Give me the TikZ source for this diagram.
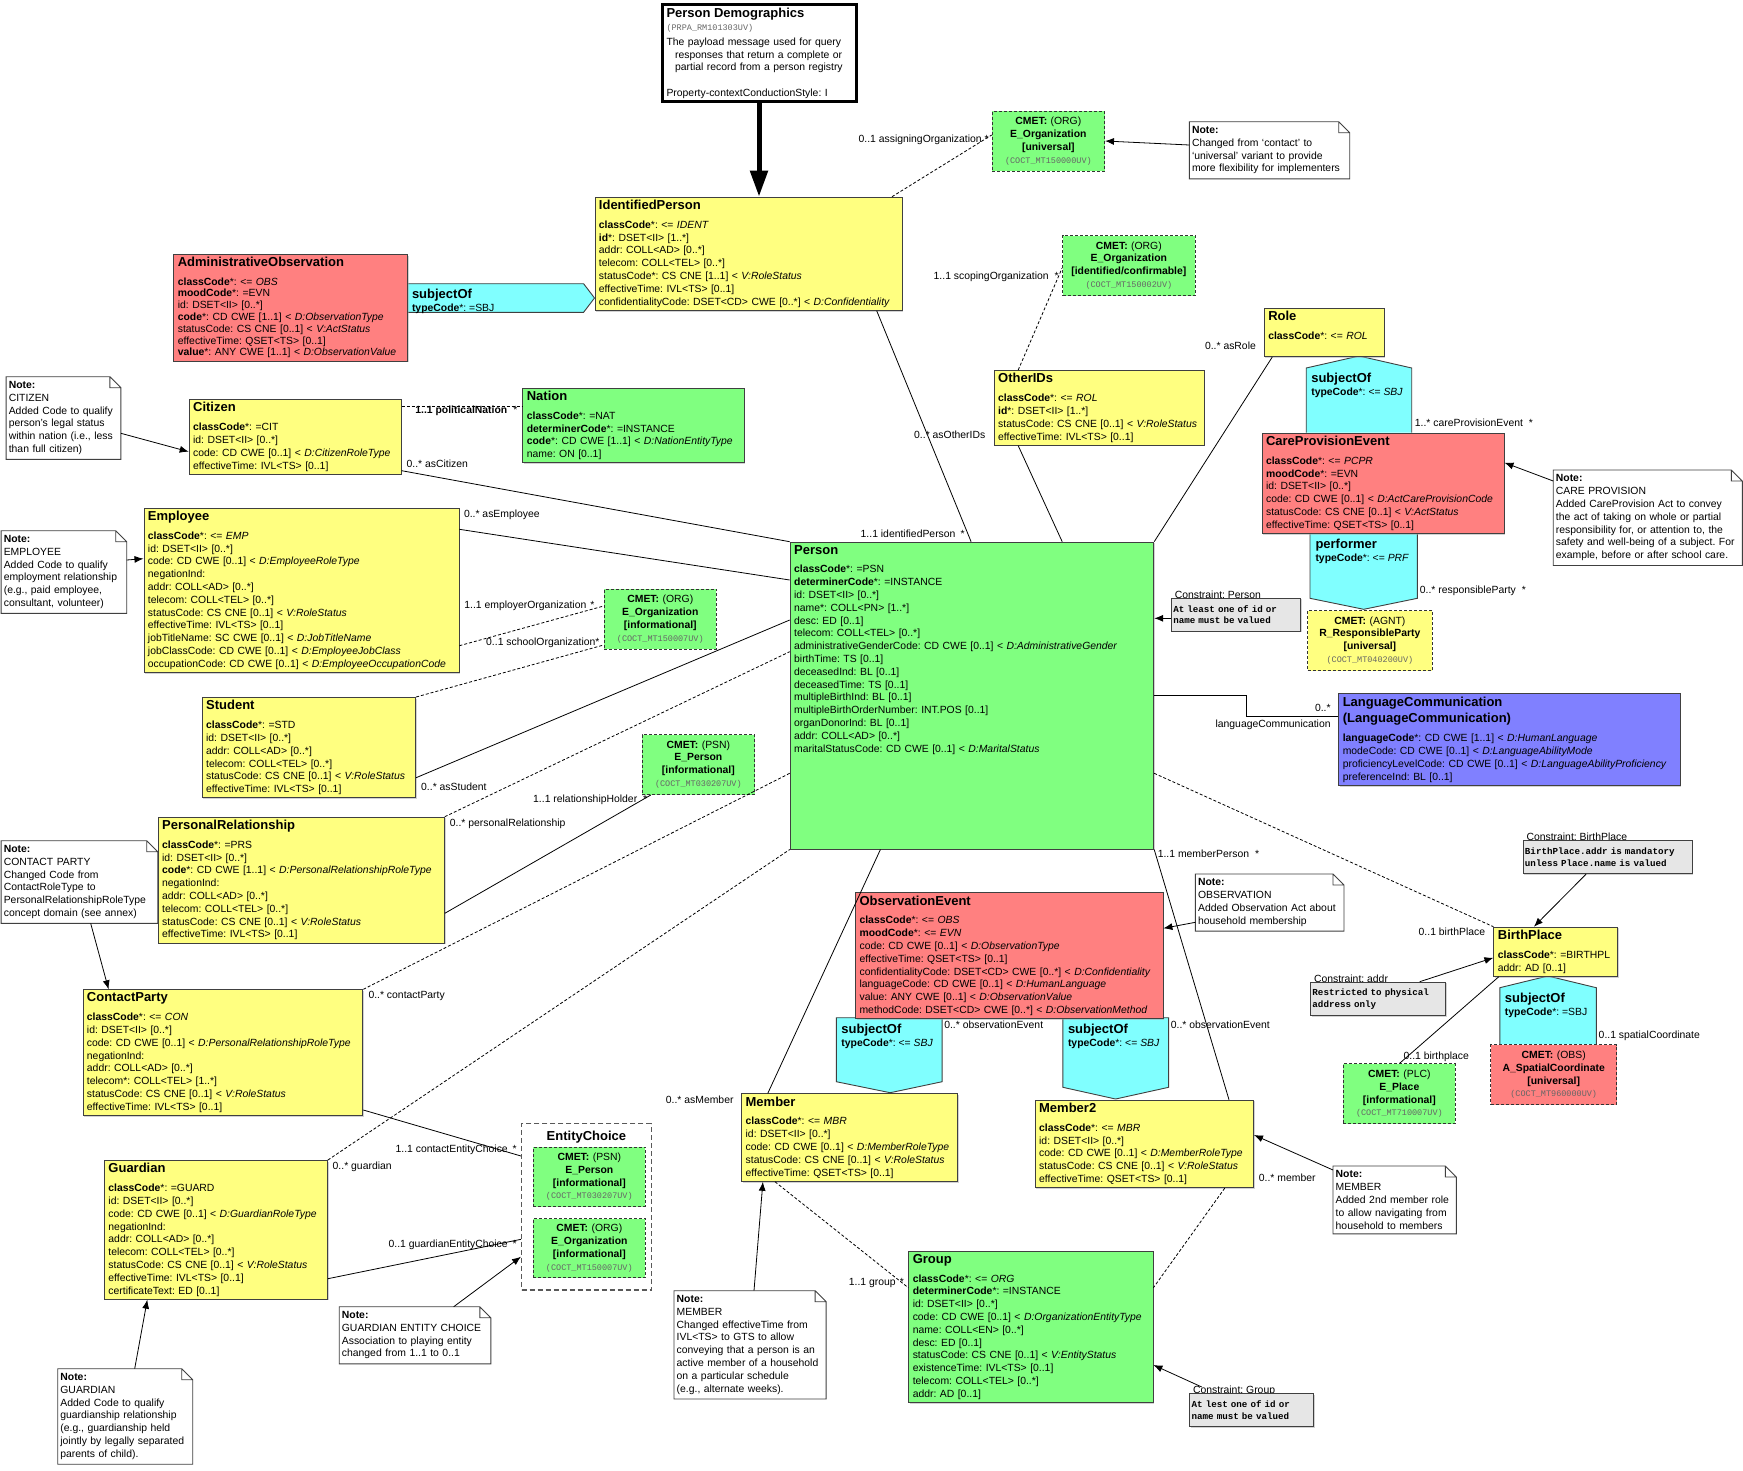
\documentclass[tikz,border=0pt]{standalone}
\usepackage{fontspec}
\setmainfont{Liberation Sans}
\newfontfamily\monofont{Liberation Mono}
\usetikzlibrary{arrows.meta,calc,positioning,shadows}
\frenchspacing

\definecolor{clsyellow}{HTML}{FFFF80}
\definecolor{clsgreen}{HTML}{80FF80}
\definecolor{clsred}{HTML}{FF8080}
\definecolor{clsblue}{HTML}{8080FF}
\definecolor{clscyan}{HTML}{80FFFF}
\definecolor{cstgray}{HTML}{E6E6E6}

\newcommand\attrfont{\fontsize{10.4}{12.8}\selectfont}
\newcommand\cstfont{\monofont\bfseries\fontsize{9.2}{11.7}\selectfont}
\newcommand\clstitle[1]{{\fontsize{13}{12.8}\selectfont\bfseries #1}}
\newcommand\cmetid[1]{{\monofont\fontsize{8.5}{10}\selectfont\color{black!60}#1}}
\newcommand\xdep[1]{\rule[-#1]{0pt}{#1}}

\tikzset{
  cls/.style={draw=black!75, line width=0.9pt, anchor=north west, align=left,
    inner xsep=4pt, inner ysep=3pt, font=\attrfont,
    drop shadow={shadow xshift=1.2pt, shadow yshift=-1.2pt, fill=black!35}},
  pdbox/.style={draw=black, line width=3pt, fill=white, anchor=north west,
    minimum width=194pt, minimum height=97pt, text width=185pt, align=left,
    inner xsep=4.5pt, inner ysep=3pt, font=\attrfont},
  cmet/.style={draw=black!80, dash pattern=on 3pt off 2pt, line width=1pt,
    anchor=north west, align=center, inner sep=0pt, minimum height=60pt, font=\attrfont},
  notebox/.style={anchor=north west, align=left, fill=white, inner xsep=2.5pt,
    inner ysep=4.5pt, font=\attrfont},
  notebd/.style={draw=black!75, line width=0.9pt},
  cstbox/.style={draw=black!75, line width=0.9pt, fill=cstgray, anchor=north west,
    align=left, inner xsep=2pt, inner ysep=0pt, font=\cstfont,
    drop shadow={shadow xshift=1.2pt, shadow yshift=-1.2pt, fill=black!35}},
  lbl/.style={inner sep=0pt, font=\attrfont, text height=7.5pt, text depth=2pt},
  cyanbox/.style={draw=black!75, line width=0.9pt, fill=clscyan},
  cyantext/.style={anchor=north west, align=left, inner sep=0pt, font=\attrfont},
  assoc/.style={draw=black, line width=0.8pt},
  dashassoc/.style={assoc, dash pattern=on 3pt off 2pt},
  notearrow/.style={draw=black, line width=0.8pt, -{Latex[length=9pt,width=7pt]}},
}

\begin{document}
\begin{tikzpicture}[x=1pt, y=-1pt]
  \useasboundingbox (0,0) rectangle (1743,1470);
  \fill[white] (0,0) rectangle (1743,1470);

  % connector shapes
  \draw[cyanbox] (407.2,283.7) -- (583.6,283.7) -- (594.5,298) -- (583.6,312.3) -- (407.2,312.3);
  \draw[cyanbox] (1306.2,432.7) -- (1306.2,368) -- (1359.1,356) -- (1411.7,368) -- (1411.7,432.7);
  \draw[cyanbox] (1310,533.3) -- (1310,598.3) -- (1363.7,609.3) -- (1417.4,598.3) -- (1417.4,533.3);
  \draw[cyanbox] (1499.8,1044.3) -- (1499.8,987.7) -- (1547.9,976) -- (1596.3,987.7) -- (1596.3,1044.3);
  \draw[cyanbox] (836.3,1017.7) -- (836.3,1081.7) -- (890.2,1092.7) -- (942.1,1081.7) -- (942.1,1017.7) -- cycle;
  \draw[cyanbox] (1062.9,1017.7) -- (1062.9,1087.3) -- (1115.6,1099) -- (1168.6,1087.3) -- (1168.6,1017.7) -- cycle;
  \node[cyantext] (tsadm) at (411.8,288.6) {\clstitle{subjectOf}\\\textbf{typeCode}*: =SBJ};
  \node[cyantext] (trole) at (1311.1,373) {\clstitle{subjectOf}\\\textbf{typeCode}*: <= \textit{SBJ}};
  \node[cyantext] (tperf) at (1315.3,538.6) {\clstitle{performer}\\\textbf{typeCode}*: <= \textit{PRF}};
  \node[cyantext] (tbpl) at (1504.7,993) {\clstitle{subjectOf}\\\textbf{typeCode}*: =SBJ};
  \node[cyantext] (tobsa) at (841.2,1023.6) {\clstitle{subjectOf}\\\textbf{typeCode}*: <= \textit{SBJ}};
  \node[cyantext] (tobsb) at (1067.8,1023.6) {\clstitle{subjectOf}\\\textbf{typeCode}*: <= \textit{SBJ}};

  % constraint captions
  \node[lbl, anchor=base west] (lcstp) at (1174.6,598.4) {Constraint: Person};
  \node[lbl, anchor=base west] (lcstbp) at (1526.3,840.5) {Constraint: BirthPlace};
  \node[lbl, anchor=base west] (lcstad) at (1313.8,982.4) {Constraint: addr};
  \node[lbl, anchor=base west] (lcstgrp) at (1192.8,1393.7) {Constraint: Group};

  % header
  \node[pdbox] (pd) at (660.5,3.2) {\clstitle{Person Demographics}\\[0.5pt]\cmetid{(PRPA\_RM101303UV)}\\[2pt]The payload message used for query\\\hspace*{8.6pt}responses that return a complete or\\\hspace*{8.6pt}partial record from a person registry\\[12.8pt]Property-contextConductionStyle: I};

  % classes
  \node[cls, fill=clsyellow, text width=299pt] (idp) at (594.5,196.7) {\clstitle{IdentifiedPerson}\\[6pt]
    \textbf{classCode}*: <= \textit{IDENT}\\
    \textbf{id}*: DSET<II> [1..*]\\
    addr: COLL<AD> [0..*]\\
    telecom: COLL<TEL> [0..*]\\
    statusCode*: CS CNE [1..1] < \textit{V:RoleStatus}\\
    effectiveTime: IVL<TS> [0..1]\\
    confidentialityCode: DSET<CD> CWE [0..*] < \textit{D:Confidentiality}};
  \node[cls, fill=clsred, text width=225.8pt, font=\fontsize{10.4}{11.8}\selectfont] (adm) at (173.4,254) {\clstitle{AdministrativeObservation}\\[6.5pt]
    \textbf{classCode}*: <= \textit{OBS}\\
    \textbf{moodCode}*: =EVN\\
    id: DSET<II> [0..*]\\
    \textbf{code}*: CD CWE [1..1] < \textit{D:ObservationType}\\
    statusCode: CS CNE [0..1] < \textit{V:ActStatus}\\
    effectiveTime: QSET<TS> [0..1]\\
    \textbf{value}*: ANY CWE [1..1] < \textit{D:ObservationValue}};
  \node[cls, fill=clsyellow, text width=204pt] (cit) at (188.7,399) {\clstitle{Citizen}\\[6pt]
    \textbf{classCode}*: =CIT\\
    id: DSET<II> [0..*]\\
    code: CD CWE [0..1] < \textit{D:CitizenRoleType}\\
    effectiveTime: IVL<TS> [0..1]};
  \node[cls, fill=clsgreen, text width=213.4pt] (nat) at (522.4,387.7) {\clstitle{Nation}\\[6pt]
    \textbf{classCode}*: =NAT\\
    \textbf{determinerCode}*: =INSTANCE\\
    \textbf{code}*: CD CWE [1..1] < \textit{D:NationEntityType}\\
    name: ON [0..1]};
  \node[cls, fill=clsyellow, text width=307pt] (emp) at (143.5,507.7) {\clstitle{Employee}\\[6pt]
    \textbf{classCode}*: <= \textit{EMP}\\
    id: DSET<II> [0..*]\\
    code: CD CWE [0..1] < \textit{D:EmployeeRoleType}\\
    negationInd:\\
    addr: COLL<AD> [0..*]\\
    telecom: COLL<TEL> [0..*]\\
    statusCode: CS CNE [0..1] < \textit{V:RoleStatus}\\
    effectiveTime: IVL<TS> [0..1]\\
    jobTitleName: SC CWE [0..1] < \textit{D:JobTitleName}\\
    jobClassCode: CD CWE [0..1] < \textit{D:EmployeeJobClass}\\
    occupationCode: CD CWE [0..1] < \textit{D:EmployeeOccupationCode}};
  \node[cls, fill=clsyellow, text width=205.5pt] (stu) at (201.7,697) {\clstitle{Student}\\[6pt]
    \textbf{classCode}*: =STD\\
    id: DSET<II> [0..*]\\
    addr: COLL<AD> [0..*]\\
    telecom: COLL<TEL> [0..*]\\
    statusCode: CS CNE [0..1] < \textit{V:RoleStatus}\\
    effectiveTime: IVL<TS> [0..1]};
  \node[cls, fill=clsyellow, text width=278.2pt] (prs) at (157.7,816.7) {\clstitle{PersonalRelationship}\\[6pt]
    \textbf{classCode}*: =PRS\\
    id: DSET<II> [0..*]\\
    \textbf{code}*: CD CWE [1..1] < \textit{D:PersonalRelationshipRoleType}\\
    negationInd:\\
    addr: COLL<AD> [0..*]\\
    telecom: COLL<TEL> [0..*]\\
    statusCode: CS CNE [0..1] < \textit{V:RoleStatus}\\
    effectiveTime: IVL<TS> [0..1]};
  \node[cls, fill=clsyellow, text width=271.9pt] (con) at (82.5,989.3) {\clstitle{ContactParty}\\[6pt]
    \textbf{classCode}*: <= \textit{CON}\\
    id: DSET<II> [0..*]\\
    code: CD CWE [0..1] < \textit{D:PersonalRelationshipRoleType}\\
    negationInd:\\
    addr: COLL<AD> [0..*]\\
    telecom*: COLL<TEL> [1..*]\\
    statusCode: CS CNE [0..1] < \textit{V:RoleStatus}\\
    effectiveTime: IVL<TS> [0..1]};
  \node[cls, fill=clsyellow, text width=215pt] (grd) at (104,1160) {\clstitle{Guardian}\\[6pt]
    \textbf{classCode}*: =GUARD\\
    id: DSET<II> [0..*]\\
    code: CD CWE [0..1] < \textit{D:GuardianRoleType}\\
    negationInd:\\
    addr: COLL<AD> [0..*]\\
    telecom: COLL<TEL> [0..*]\\
    statusCode: CS CNE [0..1] < \textit{V:RoleStatus}\\
    effectiveTime: IVL<TS> [0..1]\\
    certificateText: ED [0..1]};
  \node[cls, fill=clsgreen, text width=355.6pt] (psn) at (789.7,541.7) {\clstitle{Person}\\[6pt]
    \textbf{classCode}*: =PSN\\
    \textbf{determinerCode}*: =INSTANCE\\
    id: DSET<II> [0..*]\\
    name*: COLL<PN> [1..*]\\
    desc: ED [0..1]\\
    telecom: COLL<TEL> [0..*]\\
    administrativeGenderCode: CD CWE [0..1] < \textit{D:AdministrativeGender}\\
    birthTime: TS [0..1]\\
    deceasedInd: BL [0..1]\\
    deceasedTime: TS [0..1]\\
    multipleBirthInd: BL [0..1]\\
    multipleBirthOrderNumber: INT.POS [0..1]\\
    organDonorInd: BL [0..1]\\
    addr: COLL<AD> [0..*]\\
    maritalStatusCode: CD CWE [0..1] < \textit{D:MaritalStatus}\xdep{94pt}};
  \node[cls, fill=clsyellow, text width=202pt] (oid) at (993.7,370) {\clstitle{OtherIDs}\\[6pt]
    \textbf{classCode}*: <= \textit{ROL}\\
    \textbf{id}*: DSET<II> [1..*]\\
    statusCode: CS CNE [0..1] < \textit{V:RoleStatus}\\
    effectiveTime: IVL<TS> [0..1]};
  \node[cls, fill=clsyellow, text width=111.9pt] (role) at (1263.8,307.7) {\clstitle{Role}\\[6pt]
    \textbf{classCode}*: <= \textit{ROL}\xdep{14.3pt}};
  \node[cls, fill=clsred, text width=234pt] (cpe) at (1261.6,432.7) {\clstitle{CareProvisionEvent}\\[6pt]
    \textbf{classCode}*: <= \textit{PCPR}\\
    \textbf{moodCode}*: =EVN\\
    id: DSET<II> [0..*]\\
    code: CD CWE [0..1] < \textit{D:ActCareProvisionCode}\\
    statusCode: CS CNE [0..1] < \textit{V:ActStatus}\\
    effectiveTime: QSET<TS> [0..1]};
  \node[cls, fill=clsblue, text width=333.2pt] (lang) at (1338.3,693.3) {\clstitle{LanguageCommunication}\\[3.2pt]\clstitle{(LanguageCommunication)}\\[6.8pt]
    \textbf{languageCode}*: CD CWE [1..1] < \textit{D:HumanLanguage}\\
    modeCode: CD CWE [0..1] < \textit{D:LanguageAbilityMode}\\
    proficiencyLevelCode: CD CWE [0..1] < \textit{D:LanguageAbilityProficiency}\\
    preferenceInd: BL [0..1]};
  \node[cls, fill=clsyellow, text width=115.7pt] (bpl) at (1493.4,926.7) {\clstitle{BirthPlace}\\[6pt]
    \textbf{classCode}*: =BIRTHPL\\
    addr: AD [0..1]};
  \node[cls, fill=clsred, text width=299.4pt] (obs) at (855.1,892.3) {\clstitle{ObservationEvent}\\[6pt]
    \textbf{classCode}*: <= \textit{OBS}\\
    \textbf{moodCode}*: <= \textit{EVN}\\
    code: CD CWE [0..1] < \textit{D:ObservationType}\\
    effectiveTime: QSET<TS> [0..1]\\
    confidentialityCode: DSET<CD> CWE [0..*] < \textit{D:Confidentiality}\\
    languageCode: CD CWE [0..1] < \textit{D:HumanLanguage}\\
    value: ANY CWE [0..1] < \textit{D:ObservationValue}\\
    methodCode: DSET<CD> CWE [0..*] < \textit{D:ObservationMethod}};
  \node[cls, fill=clsyellow, text width=208pt] (mbr) at (741.2,1093.3) {\clstitle{Member}\\[6pt]
    \textbf{classCode}*: <= \textit{MBR}\\
    id: DSET<II> [0..*]\\
    code: CD CWE [0..1] < \textit{D:MemberRoleType}\\
    statusCode: CS CNE [0..1] < \textit{V:RoleStatus}\\
    effectiveTime: QSET<TS> [0..1]};
  \node[cls, fill=clsyellow, text width=210.4pt] (mbr2) at (1034.7,1099.7) {\clstitle{Member2}\\[6pt]
    \textbf{classCode}*: <= \textit{MBR}\\
    id: DSET<II> [0..*]\\
    code: CD CWE [0..1] < \textit{D:MemberRoleType}\\
    statusCode: CS CNE [0..1] < \textit{V:RoleStatus}\\
    effectiveTime: QSET<TS> [0..1]};
  \node[cls, fill=clsgreen, text width=236.2pt] (grp) at (908.3,1250.7) {\clstitle{Group}\\[6pt]
    \textbf{classCode}*: <= \textit{ORG}\\
    \textbf{determinerCode}*: =INSTANCE\\
    id: DSET<II> [0..*]\\
    code: CD CWE [0..1] < \textit{D:OrganizationEntityType}\\
    name: COLL<EN> [0..*]\\
    desc: ED [0..1]\\
    statusCode: CS CNE [0..1] < \textit{V:EntityStatus}\\
    existenceTime: IVL<TS> [0..1]\\
    telecom: COLL<TEL> [0..*]\\
    addr: AD [0..1]};

  % CMETs
  \node[cmet, fill=clsgreen, text width=112.3pt] (corg1) at (991.7,110.7) {\textbf{CMET:} (ORG)\\\textbf{E\_Organization}\\\textbf{[universal]}\\\cmetid{(COCT\_MT150000UV)}};
  \node[cmet, fill=clsgreen, text width=132.7pt] (corg4) at (1062,235) {\textbf{CMET:} (ORG)\\\textbf{E\_Organization}\\\textbf{[identified/confirmable]}\\\cmetid{(COCT\_MT150002UV)}};
  \node[cmet, fill=clsgreen, text width=112.2pt] (corg2) at (603.7,588.7) {\textbf{CMET:} (ORG)\\\textbf{E\_Organization}\\\textbf{[informational]}\\\cmetid{(COCT\_MT150007UV)}};
  \node[cmet, fill=clsgreen, text width=112.5pt] (cpsn1) at (641.6,734) {\textbf{CMET:} (PSN)\\\textbf{E\_Person}\\\textbf{[informational]}\\\cmetid{(COCT\_MT030207UV)}};
  \node[cmet, fill=clsyellow, text width=124.8pt] (crp) at (1307,610) {\textbf{CMET:} (AGNT)\\\textbf{R\_ResponsibleParty}\\\textbf{[universal]}\\\cmetid{(COCT\_MT040200UV)}};
  \node[cmet, fill=clsred, text width=125.6pt] (cspc) at (1490.4,1044.3) {\textbf{CMET:} (OBS)\\\textbf{A\_SpatialCoordinate}\\\textbf{[universal]}\\\cmetid{(COCT\_MT960000UV)}};
  \node[cmet, fill=clsgreen, text width=111.9pt] (cplc) at (1342.9,1063.3) {\textbf{CMET:} (PLC)\\\textbf{E\_Place}\\\textbf{[informational]}\\\cmetid{(COCT\_MT710007UV)}};

  % choice box
  \node[draw=black!65, dash pattern=on 5pt off 3pt, line width=1.2pt, fill=white, anchor=north west,
    minimum width=129.7pt, minimum height=166.3pt, inner sep=0pt] (ech) at (521,1123) {};
  \node[inner sep=0pt, below=7.5pt of ech.north] (echt) {\clstitle{EntityChoice}};
  \node[cmet, fill=clsgreen, text width=111.9pt, minimum height=59.3pt] (cpsn2) at (532.9,1146.7) {\textbf{CMET:} (PSN)\\\textbf{E\_Person}\\\textbf{[informational]}\\\cmetid{(COCT\_MT030207UV)}};
  \node[cmet, fill=clsgreen, text width=111.9pt, minimum height=59.3pt] (corg3) at (532.9,1218) {\textbf{CMET:} (ORG)\\\textbf{E\_Organization}\\\textbf{[informational]}\\\cmetid{(COCT\_MT150007UV)}};

  % constraints
  \node[cstbox, text width=125.3pt, minimum height=33pt] (cstp) at (1170.8,597.7) {At least one of id or\\name must be valued};
  \node[cstbox, text width=165.1pt, minimum height=33.3pt] (cstbp) at (1522.5,840) {BirthPlace.addr is mandatory\\unless Place.name is valued};
  \node[cstbox, text width=131.4pt, minimum height=33.3pt] (cstad) at (1310,981.7) {Restricted to physical\\address only};
  \node[cstbox, text width=119.9pt, minimum height=32.7pt] (cstgrp) at (1189.2,1393.3) {At lest one of id or\\name must be valued};

  % notes
  \node[notebox, text width=109.4pt] (ncit) at (6.1,376.7) {\textbf{Note:}\\CITIZEN\\Added Code to qualify\\person's legal status\\within nation (i.e., less\\than full citizen)};
  \node[notebox, text width=120.2pt] (nemp) at (1.1,530.7) {\textbf{Note:}\\EMPLOYEE\\Added Code to qualify\\employment relationship\\(e.g., paid employee,\\consultant, volunteer)};
  \node[notebox, text width=151.2pt] (ncon) at (1.1,840.7) {\textbf{Note:}\\CONTACT PARTY\\Changed Code from\\ContactRoleType to\\PersonalRelationshipRoleType\\concept domain (see annex)};
  \node[notebox, text width=129.6pt] (nguard) at (57.7,1368.7) {\textbf{Note:}\\GUARDIAN\\Added Code to qualify\\guardianship relationship\\(e.g., guardianship held\\jointly by legally separated\\parents of child).};
  \node[notebox, text width=146.2pt] (ngec) at (339.2,1306.7) {\textbf{Note:}\\GUARDIAN ENTITY CHOICE\\Association to playing entity\\changed from 1..1 to 0..1};
  \node[notebox, text width=146.7pt] (nmem) at (674,1290.7) {\textbf{Note:}\\MEMBER\\Changed effectiveTime from\\IVL<TS> to GTS to allow\\conveying that a person is an\\active member of a household\\on a particular schedule\\(e.g., alternate weeks).};
  \node[notebox, text width=117.9pt] (nmem2) at (1333,1166) {\textbf{Note:}\\MEMBER\\Added 2nd member role\\to allow navigating from\\household to members};
  \node[notebox, text width=143.2pt] (nobs) at (1195.4,874) {\textbf{Note:}\\OBSERVATION\\Added Observation Act about\\household membership};
  \node[notebox, text width=183.7pt] (ncare) at (1553.2,470) {\textbf{Note:}\\CARE PROVISION\\Added CareProvision Act to convey\\the act of taking on whole or partial\\responsibility for, or attention to, the\\safety and well-being of a subject. For\\example, before or after school care.};
  \node[notebox, text width=155pt] (nuniv) at (1189.3,121.7) {\textbf{Note:}\\Changed from `contact' to\\`universal' variant to provide\\more flexibility for implementers};
  \foreach \n in {ncit,nemp,ncon,nguard,ngec,nmem,nmem2,nobs,ncare,nuniv}
    \draw[notebd] (\n.south west) -- (\n.north west) -- ([xshift=-11pt]\n.north east)
      -- ([yshift=-11pt]\n.north east) -- (\n.south east) -- cycle
      ([xshift=-11pt]\n.north east) |- ([yshift=-11pt]\n.north east);

  % associations
  \draw[line width=5pt, -{Triangle[width=17pt,length=26pt]}] (pd.south) -- (pd.south |- idp.north);
  \draw[dashassoc] ($(idp.north east)+(-10.4,0)$) -- ($(corg1.north west)+(0,24.3)$);
  \draw[dashassoc] ($(oid.north west)+(24.5,0)$) -- ($(corg4.north west)+(0,33.3)$);
  \draw[dashassoc] ($(cit.north east)+(0,7.3)$) -- ($(nat.north west)+(0,18.6)$);
  \draw[assoc] ($(cit.south east)+(0,-4)$) -- (psn.north west);
  \draw[assoc] ($(emp.north east)+(0,21.6)$) -- ($(psn.north west)+(0,38.3)$);
  \draw[dashassoc] ($(emp.north east)+(0,138)$) -- ($(corg2.north west)+(0,17.3)$);
  \draw[dashassoc] (stu.north east) -- ($(corg2.north west)+(0,56.3)$);
  \draw[assoc] ($(stu.north east)+(0,80.7)$) -- ($(psn.north west)+(0,78.3)$);
  \draw[dashassoc] (prs.north east) -- ($(psn.north west)+(0,110)$);
  \draw[assoc] ($(prs.north east)+(0,96.6)$) -- ($(cpsn1.south west)+(9.2,0)$);
  \draw[dashassoc] (con.north east) -- ($(psn.north west)+(0,231.6)$);
  \draw[dashassoc] (grd.north east) -- (psn.south west);
  \draw[assoc] ($(con.north east)+(0,120.7)$) -- ($(ech.north west)+(0,33)$);
  \draw[assoc] ($(grd.north east)+(0,118.7)$) -- ($(ech.north west)+(0,116.3)$);
  \draw[assoc] ($(idp.south east)+(-25.7,0)$) -- ($(psn.north west)+(181.4,0)$);
  \draw[assoc] ($(oid.south west)+(24.5,0)$) -- ($(psn.north west)+(272.5,0)$);
  \draw[assoc] ($(role.south west)+(8.4,0)$) -- (psn.north east);
  \draw[assoc] ($(psn.north east)+(0,154)$) -- ++(92.4,0) |- ($(lang.north west)+(0,22.7)$);
  \draw[dashassoc] ($(psn.north east)+(0,231.6)$) -- (bpl.north west);
  \draw[assoc] ($(cplc.north west)+(56.7,0)$) -- ($(bpl.south west)+(5.3,0)$);
  \draw[assoc] (psn.south east) -- ($(mbr2.north west)+(194.3,0)$);
  \draw[assoc] ($(psn.south west)+(90.7,0)$) -- ($(mbr.north west)+(26.6,0)$);
  \draw[dashassoc] ($(mbr.south west)+(33.8,0)$) -- ($(grp.north west)+(0,37)$);
  \draw[dashassoc] ($(mbr2.south west)+(190,0)$) -- ($(grp.north east)+(0,37)$);

  % note and constraint arrows
  \draw[notearrow] ($(ncit.north east)+(0,56.6)$) -- ($(cit.north west)+(0,52.7)$);
  \draw[notearrow] ($(nemp.north east)+(0,29.3)$) -- ($(emp.north west)+(0,51)$);
  \draw[notearrow] ($(ncon.south west)+(89.6,0)$) -- ($(con.north west)+(26.1,0)$);
  \draw[notearrow] ($(nguard.north west)+(77,0)$) -- ($(grd.south west)+(43.3,0)$);
  \draw[notearrow] ($(ngec.north west)+(114.5,0)$) -- ($(ech.north west)+(0,133.7)$);
  \draw[notearrow] ($(nmem.north west)+(80,0)$) -- ($(mbr.south west)+(21.7,0)$);
  \draw[notearrow] ($(nmem2.north west)+(0,4)$) -- ($(mbr2.north east)+(0,35.3)$);
  \draw[notearrow] ($(nobs.north west)+(0,48.3)$) -- ($(obs.north east)+(0,36)$);
  \draw[notearrow] ($(ncare.north west)+(0,11)$) -- ($(cpe.north east)+(0,30)$);
  \draw[notearrow] ($(nuniv.north west)+(0,23.3)$) -- ($(corg1.north east)+(0,30.3)$);
  \draw[notearrow] ($(cstp.north west)+(0,20.6)$) -- ($(psn.north east)+(0,76.6)$);
  \draw[notearrow] ($(cstbp.south west)+(63.5,0)$) -- ($(bpl.north west)+(40.5,0)$);
  \draw[notearrow] ($(cstad.north west)+(109.7,0)$) -- ($(bpl.north west)+(0,31)$);
  \draw[notearrow] ($(lcstgrp.north west)+(9,1)$) -- ($(grp.north east)+(0,114.3)$);

  % association labels
  \node[lbl, anchor=east] (lassign) at (989,140) {0..1 assigningOrganization\hspace{3pt}*};
  \node[lbl, anchor=east] (lscope) at (1059,276.3) {1..1 scopingOrganization\hspace{6pt}*};
  \node[lbl, anchor=west] (lnation) at (415.2,411) {\textbf{1..1 politicalNation}\hspace{6pt}*};
  \node[lbl, anchor=west] (lcit) at (406.4,465) {0..* asCitizen};
  \node[lbl, anchor=west] (lemp) at (463.8,514.3) {0..* asEmployee};
  \node[lbl, anchor=west] (lemporg) at (464.2,606) {1..1 employerOrganization\hspace{4pt}*};
  \node[lbl, anchor=west] (lschool) at (486,642.3) {0..1 schoolOrganization*};
  \node[lbl, anchor=west] (lstu) at (421,788) {0..* asStudent};
  \node[lbl, anchor=west] (lprs) at (449.7,823.3) {0..* personalRelationship};
  \node[lbl, anchor=west] (lholder) at (533,799.3) {1..1 relationshipHolder\hspace{6pt}*};
  \node[lbl, anchor=west] (lcon) at (368.3,996) {0..* contactParty};
  \node[lbl, anchor=west] (lgrd) at (332.5,1167) {0..* guardian};
  \node[lbl, anchor=east] (lcec) at (517,1149.3) {1..1 contactEntityChoice\hspace{5pt}*};
  \node[lbl, anchor=east] (lgec) at (517,1245) {0..1 guardianEntityChoice\hspace{5pt}*};
  \node[lbl, anchor=west] (lidp) at (860.5,535) {1..1 identifiedPerson\hspace{5pt}*};
  \node[lbl, anchor=west] (loid) at (914,435.3) {0..* asOtherIDs};
  \node[lbl, anchor=west] (lrole) at (1204.8,346.3) {0..* asRole};
  \node[lbl, anchor=west] (lcpe) at (1414.7,424) {1..* careProvisionEvent\hspace{6pt}*};
  \node[lbl, anchor=west] (lrp) at (1419.7,590.7) {0..* responsibleParty\hspace{6pt}*};
  \node[lbl, anchor=east] (llanga) at (1330.8,709) {0..*};
  \node[lbl, anchor=east] (llangb) at (1330.8,724.3) {languageCommunication};
  \node[lbl, anchor=west] (lbpl) at (1418.5,933) {0..1 birthPlace};
  \node[lbl, anchor=west] (lspc) at (1598.5,1036) {0..1 spatialCoordinate};
  \node[lbl, anchor=west] (lplc) at (1403.4,1057) {0..1 birthplace};
  \node[lbl, anchor=west] (lmp) at (1157.6,854.7) {1..1 memberPerson\hspace{6pt}*};
  \node[lbl, anchor=west] (lmbr) at (665.7,1100.7) {0..* asMember};
  \node[lbl, anchor=west] (lobsa) at (944.1,1025.3) {0..* observationEvent};
  \node[lbl, anchor=west] (lobsb) at (1170.7,1025.3) {0..* observationEvent};
  \node[lbl, anchor=east] (lgrp) at (904,1282.3) {1..1 group\hspace{4pt}*};
  \node[lbl, anchor=west] (lmem) at (1258.7,1178.3) {0..* member};
\end{tikzpicture}
\end{document}
